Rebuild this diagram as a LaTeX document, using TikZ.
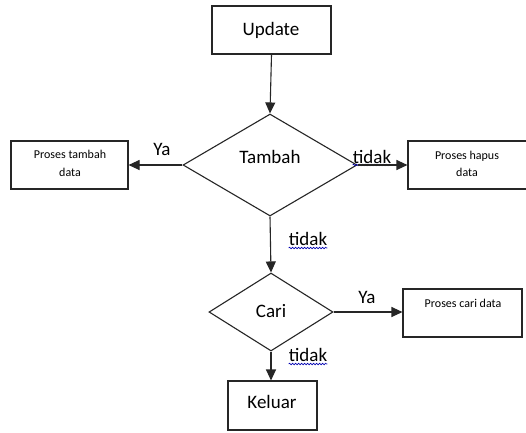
\documentclass[tikz,border=0pt]{standalone}
\usepackage{fontspec}
\setmainfont{Carlito}
\usetikzlibrary{shapes.geometric,arrows.meta,decorations.pathmorphing}
\begin{document}
\begin{tikzpicture}[x=1pt,y=-1pt,
  line/.style={draw=black!85,line width=1.1pt},
  arr/.style={line,-{Triangle[length=11pt,width=10pt]}},
  boxnode/.style={line,rectangle,inner sep=0pt},
  dec/.style={line,diamond,inner sep=0pt},
  big/.style={font=\fontsize{19}{21}\selectfont,inner sep=0pt,anchor=base},
  small/.style={font=\fontsize{12}{17}\selectfont,inner sep=0pt,anchor=base},
  wave/.style={draw=blue!70!black,line width=0.6pt,decorate,decoration={snake,amplitude=0.8pt,segment length=3pt}}
]
\useasboundingbox (0,0) rectangle (526,432);
\fill[white] (0,0) rectangle (526,432);
% boxes
\node[boxnode,minimum width=119pt,minimum height=48pt] (upd) at (271.5,30) {};
\node[boxnode,minimum width=117pt,minimum height=48pt] (tam) at (69.5,165) {};
\node[boxnode,minimum width=122pt,minimum height=48pt] (hap) at (469,165) {};
\node[boxnode,minimum width=119pt,minimum height=48pt] (car) at (462.5,313) {};
\node[boxnode,minimum width=89pt,minimum height=49pt] (kel) at (272.5,405.5) {};
% decisions
\node[dec,minimum width=174pt,minimum height=102pt] (dt) at (270,165) {};
\node[dec,minimum width=124pt,minimum height=78pt] (dc) at (271,312) {};
% texts
\node[big] (tupd) at (271,35) {Update};
\node[big] (tdt) at (270,163) {Tambah};
\node[big] (tdc) at (271,317) {Cari};
\node[big] (tkel) at (272,408) {Keluar};
\node[small] (ttam1) at (70,158) {Proses tambah};
\node[small] (ttam2) at (70,176) {data};
\node[small] (thap1) at (467,159) {Proses hapus};
\node[small] (thap2) at (467,176) {data};
\node[small] (tcar) at (463,307) {Proses cari data};
% labels
\node[big] (ya1) at (162,155) {Ya};
\node[big] (no1) at (372,163) {tidak};
\node[big] (no2) at (308,245) {tidak};
\node[big] (ya2) at (367,303) {Ya};
\node[big] (no3) at (308,361) {tidak};
% wavy underlines
\draw[wave] ([yshift=-2pt]no1.base west) -- ([yshift=-2pt]no1.base east);
\draw[wave] ([yshift=-3pt]no2.base west) -- ([yshift=-3pt]no2.base east);
\draw[wave] ([yshift=-3pt]no3.base west) -- ([yshift=-3pt]no3.base east);
% connectors
\draw[arr] (upd.south) -- (dt.north);
\draw[arr] (dt.west) -- (tam.east |- dt.west);
\draw[arr] (dt.east) -- (hap.west |- dt.east);
\draw[arr] (dt.south) -- (dc.north);
\draw[arr] (dc.east) -- (car.west |- dc.east);
\draw[arr] (dc.south) -- (kel.north -| dc.south);
\end{tikzpicture}
\end{document}
